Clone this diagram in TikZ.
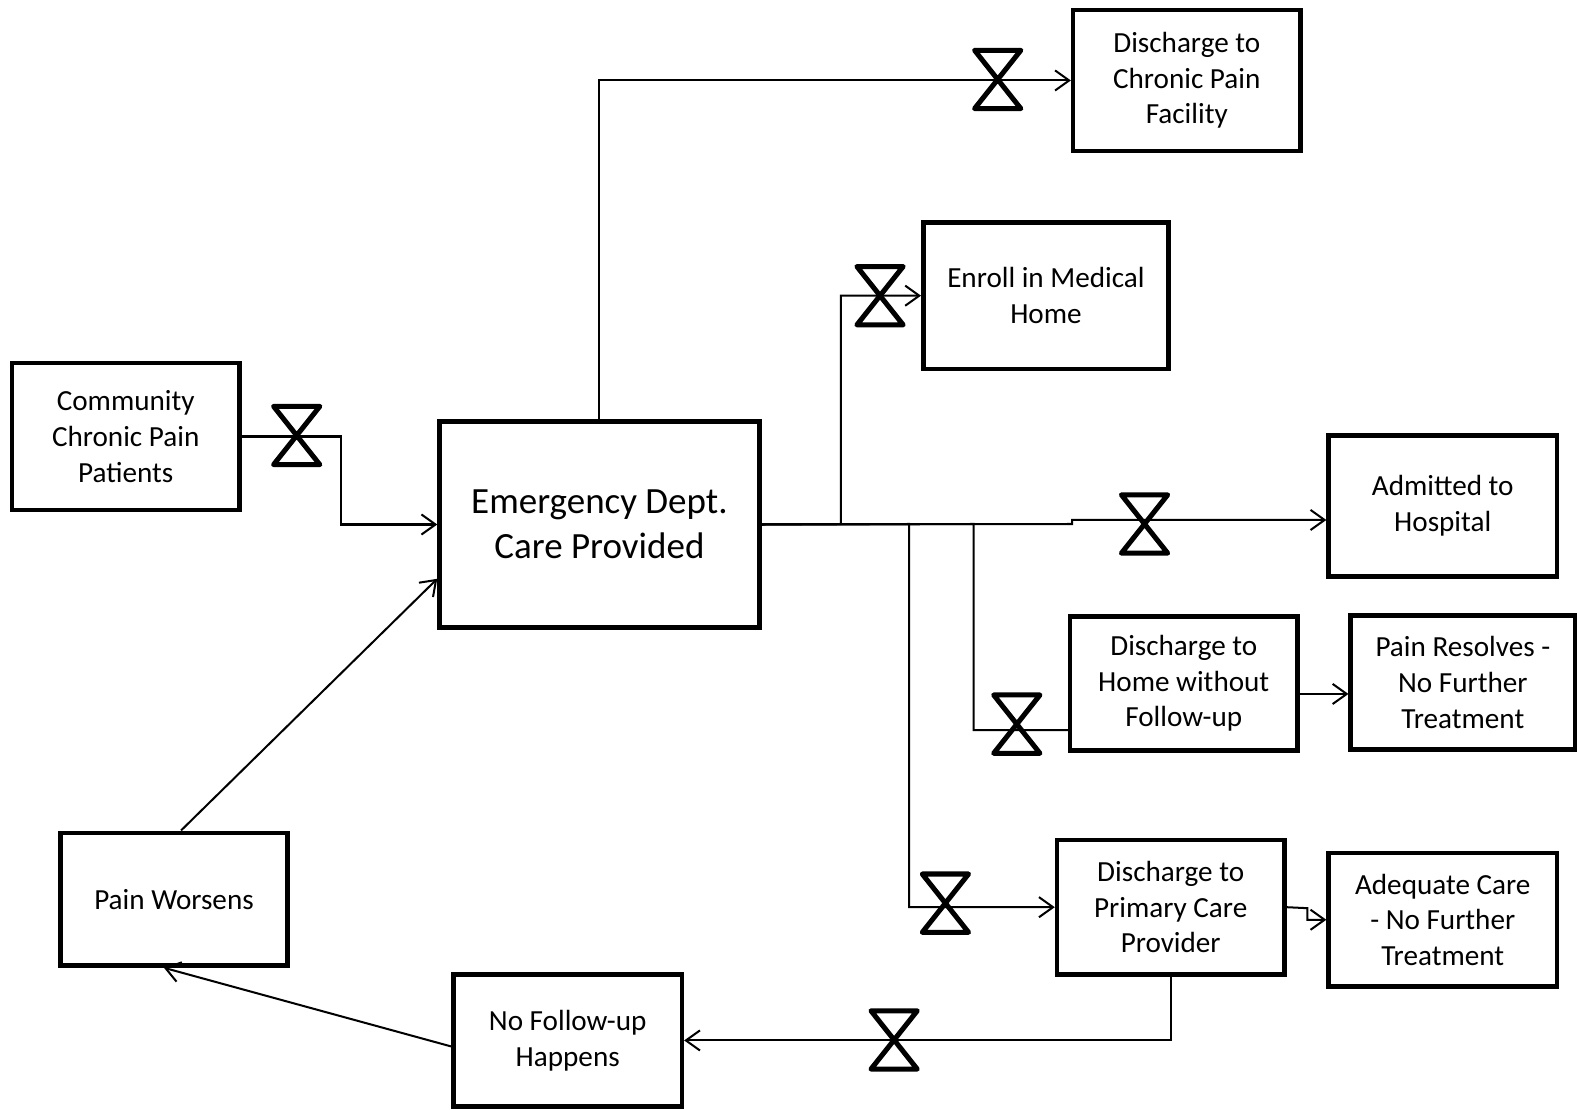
\documentclass[tikz,border=0pt]{standalone}
\usepackage{fontspec}
\setmainfont{Carlito}
\usetikzlibrary{arrows.meta}

\tikzset{
  box/.style={draw, line width=2.25pt, align=center, inner sep=0pt,
    font=\fontsize{14.5}{17.75}\selectfont},
  dims/.style 2 args={minimum width=#1*0.5pt, minimum height=#2*0.5pt},
  flow/.style={line width=1pt, -{Straight Barb[length=7pt,width=10pt]}},
  link/.style={line width=1pt},
  valve/.pic={\draw[line width=2.5pt, line join=round]
    (-23,-29) -- (23,-29) -- (-23,29) -- (23,29) -- cycle;}
}

\begin{document}
\begin{tikzpicture}[x=0.5pt, y=-0.5pt]
\useasboundingbox (0,0) rectangle (1568,1103);

    \node[box, dims={226}{146}] (comm) at (125,434) {Community\\Chronic Pain\\Patients};
    \node[box, dims={318}{205}, font=\fontsize{18.4}{22.5}\selectfont] (ed) at (596,521.5) {Emergency Dept.\\Care Provided};
    \node[box, dims={226}{140}] (cpf) at (1180,80) {Discharge to\\Chronic Pain\\Facility};
    \node[box, dims={244}{146}] (home) at (1040,294) {Enroll in Medical\\Home};
    \node[box, dims={227}{140}] (hosp) at (1434.5,503) {Admitted to\\Hospital};
    \node[box, dims={226}{133}] (dhome) at (1177,679.5) {Discharge to\\Home without\\Follow-up};
    \node[box, dims={223}{133}] (resolve) at (1454.5,678.5) {Pain Resolves -\\No Further\\Treatment};
    \node[box, dims={226}{134}] (pcp) at (1164,902) {Discharge to\\Primary Care\\Provider};
    \node[box, dims={227}{133}] (adequate) at (1434.5,914.5) {Adequate Care\\- No Further\\Treatment};
    \node[box, dims={227}{131}] (nofollow) at (564.5,1034.5) {No Follow-up\\Happens};
    \node[box, dims={226}{132}] (worse) at (173,894) {Pain Worsens};

    % flows out of the community and the ED
    \draw[flow] (comm.east) -- ++(99,0) |- (ed.west);
    \draw[flow] (ed.north) |- (cpf.west);
    \draw[flow] (ed.east) -- (836,521) |- (home.west);
    \draw[flow] (ed.east) -- (1066,521) -- (1066,517) -- (hosp.west |- 0,517);
    \draw[link] (ed.east) -- (968,521) |- (dhome.west |- 0,726);
    \draw[flow] (ed.east) -- (904,521) |- (pcp.west);

    % follow-up paths
    \draw[flow] (dhome.east |- 0,690) -- (resolve.west |- 0,690);
    \draw[flow] (pcp.east) -- (1300,903) -- (1300,914.5) -- (adequate.west);
    \draw[flow] (pcp.south) |- (nofollow.east);
    \draw[flow] ([yshift=-3pt]nofollow.west) -- ([xshift=-5pt]worse.south);
    \draw[flow] ([xshift=3.5pt]worse.north) -- ([yshift=-27pt]ed.west);

    % valves
    \pic at (295,433) {valve};
    \pic at (992,79) {valve};
    \pic at (875,294) {valve};
    \pic at (1138,521) {valve};
    \pic at (1011,720) {valve};
    \pic at (940,898) {valve};
    \pic at (889,1034) {valve};

\end{tikzpicture}
\end{document}
